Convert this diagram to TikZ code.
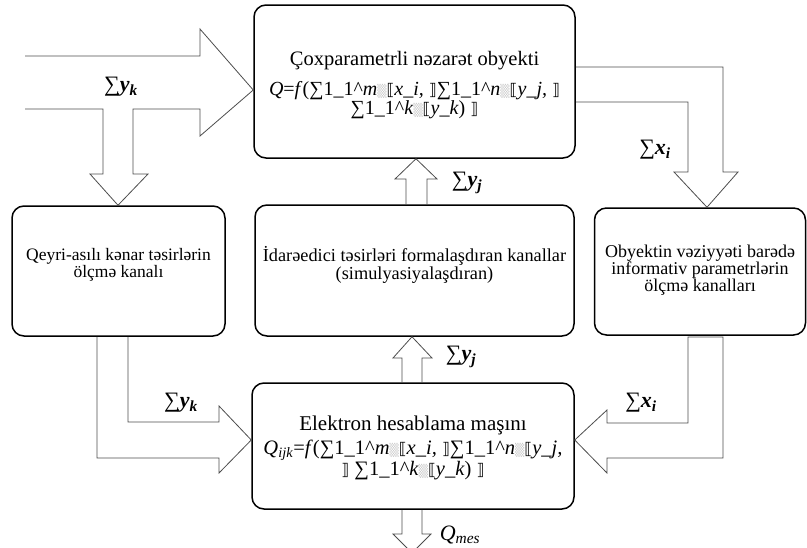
\documentclass[tikz,border=0pt]{standalone}
\usepackage{fontspec}
\setmainfont{Liberation Serif}
\newfontfamily\symf{DejaVu Sans}
\usetikzlibrary{calc}
\newcommand{\gsq}{{\symf\fontsize{12}{12}\selectfont\color{gray!40}▒}}
\newcommand{\lbr}{{\symf\fontsize{16}{16}\selectfont ⟦}}
\newcommand{\rbr}{{\symf\fontsize{16}{16}\selectfont ⟧}}
\newcommand{\sumlab}[2]{∑\textbf{\textit{#1}}\textsubscript{\textbf{\textit{#2}}}}
\begin{document}
\begin{tikzpicture}[x=1pt,y=-1pt,
  box/.style={draw=black, line width=1.5pt, rounded corners=12pt, inner sep=0pt},
  txt/.style={align=center, inner sep=0pt},
  frm/.style={align=center, inner sep=0pt},
  lab/.style={font=\fontsize{22}{22}\selectfont, inner sep=0pt},
  barr/.style={draw=gray!60!black, line width=0.8pt, line join=miter}]
\useasboundingbox (0,0) rectangle (807,547);

% boxes
\node[box, minimum width=321pt, minimum height=153pt] (top) at (414.5,81.5) {};
\node[box, minimum width=213pt, minimum height=130pt] (left) at (118.5,271) {};
\node[box, minimum width=319pt, minimum height=131pt] (mid) at (414.5,270.5) {};
\node[box, minimum width=211pt, minimum height=127pt] (right) at (700,271.5) {};
\node[box, minimum width=322pt, minimum height=126pt] (bot) at (413,446) {};

% texts
\node[txt, font=\fontsize{20.5}{20}\selectfont] (toptitle) at (414.5,61) {Çoxparametrli nəzarət obyekti};
\node[frm, font=\fontsize{20}{17}\selectfont] (topfrm) at (414.5,100) {\textit{Q}=\textit{f}(∑1\_1\^{}\textit{m}\gsq\lbr\textit{x\_i,} \rbr∑1\_1\^{}\textit{n}\gsq\lbr\textit{y\_j,} \rbr\\∑1\_1\^{}\textit{k}\gsq\lbr\textit{y\_k}) \rbr};
\node[txt, font=\fontsize{17.5}{15.5}\selectfont] (lefttxt) at (118.5,265) {Qeyri-asılı kənar təsirlərin\\ölçmə kanalı};
\node[txt, font=\fontsize{18.3}{16}\selectfont] (midtxt) at (414.5,265) {İdarəedici təsirləri formalaşdıran kanallar\\(simulyasiyalaşdıran)};
\node[txt, font=\fontsize{18}{17}\selectfont] (righttxt) at (700,270) {Obyektin vəziyyəti barədə\\informativ parametrlərin\\ölçmə kanalları};
\node[txt, font=\fontsize{21}{20}\selectfont] (bottitle) at (413,425) {Elektron hesablama maşını};
\node[frm, font=\fontsize{20.5}{17}\selectfont] (botfrm) at (413,460) {\textit{Q}\textsubscript{\textit{ijk}}=\textit{f}(∑1\_1\^{}\textit{m}\gsq\lbr\textit{x\_i,} \rbr∑1\_1\^{}\textit{n}\gsq\lbr\textit{y\_j,}\\\rbr{} ∑1\_1\^{}\textit{k}\gsq\lbr\textit{y\_k}) \rbr};

% block arrows
\draw[barr] (25,56) -- (200,56) -- (200,29) -- (top.west |- 0,90) -- (200,136) -- (200,109)
  -- (133,109) -- (133,174) -- (148,174) -- (left.north -| 118,0) -- (90,174) -- (103,174)
  -- (103,109) -- (25,109);
\draw[barr] (top.east |- 0,67) -- (723,67) -- (723,172) -- (738,172) -- (right.north -| 707,0)
  -- (674,172) -- (688,172) -- (688,102) -- (top.east |- 0,102);
\draw[barr] (mid.north -| 406,0) -- (406,179) -- (395,179) -- (top.south -| 416,0) -- (437,179)
  -- (427,179) -- (mid.north -| 427,0);
\draw[barr] (bot.north -| 402,0) -- (402,358) -- (393,358) -- (mid.south -| 412,0) -- (432,358)
  -- (422,358) -- (bot.north -| 422,0);
\draw[barr] (left.south -| 128,0) -- (128,422) -- (219,422) -- (219,406) -- (bot.west |- 0,440)
  -- (219,473) -- (219,458) -- (97,458) -- (left.south -| 97,0);
\draw[barr] (688,337) -- (688,423) -- (607,423) -- (607,410) -- (bot.east |- 0,440)
  -- (607,473) -- (607,458) -- (723,458) -- (723,337) -- cycle;
\draw[barr] (bot.south -| 402,0) -- (402,534) -- (393,534) -- (412,553) -- (431,534)
  -- (422,534) -- (bot.south -| 422,0);

% labels
\node[lab] (l1) at (121,87) {\sumlab{y}{k}};
\node[lab] (l2) at (655,150) {\sumlab{x}{i}};
\node[lab] (l3) at (467,183) {\sumlab{y}{j}};
\node[lab] (l4) at (461,357) {\sumlab{y}{j}};
\node[lab] (l5) at (181,403) {\sumlab{y}{k}};
\node[lab] (l6) at (641,403) {\sumlab{x}{i}};
\node[lab] (l7) at (460,535) {\textit{Q}\textsubscript{\textit{mes}}};
\end{tikzpicture}
\end{document}
